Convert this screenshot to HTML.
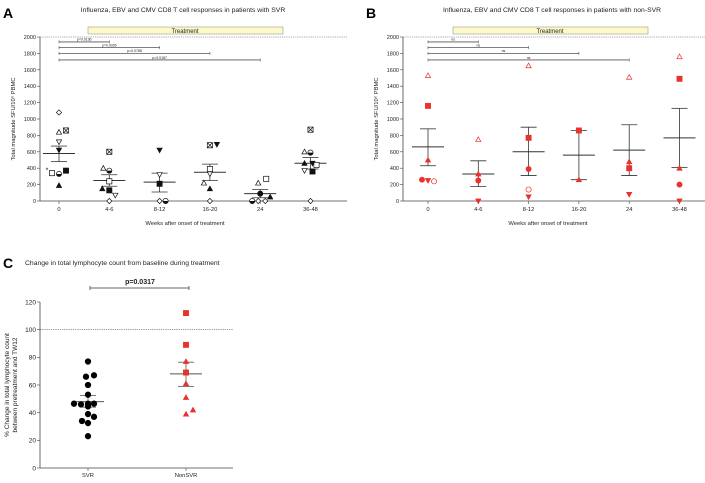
<!DOCTYPE html>
<html><head><meta charset="utf-8"><style>
body{margin:0;background:#fff;width:705px;height:478px;overflow:hidden}
svg{font-family:"Liberation Sans",sans-serif}
</style></head><body>
<svg id="s" width="705" height="478" viewBox="0 0 705 478"></svg>
<script>
const catsAB=["0","4-6","8-12","16-20","24","36-48"];
const ticksAB=[0,200,400,600,800,1000,1200,1400,1600,1800,2000];
// Panel A data: [category index, value, marker]
const aCat=[0,0,0,0,0,0,0,0,0,0, 1,1,1,1,1,1,1,1, 2,2,2,2,2, 3,3,3,3,3,3,3, 4,4,4,4,4,4,4, 5,5,5,5,5,5,5,5,5];
const aVal=[1080,840,860,720,620,380,340,330,370,190, 600,400,370,240,70,150,130,0, 620,320,210,0,0, 680,690,390,330,220,150,0, 270,220,90,0,0,0,50, 870,600,590,460,460,440,370,360,0];
const aMk=["od","ot","xs","ov","fv","st","os","hc","fs","ft", "xs","ot","hc","os","ov","ft","fs","od", "fv","ov","fs","od","hc", "xs","fv","os","ov","ot","ft","od", "os","ot","fc","hc","od","od","ft", "xs","ot","hc","ft","fv","os","ov","fs","od"];
const aJit=[0,0,7,0,0,-12,-7,0,7,0, 0,-6,0,0,6,-7,0,0, 0,0,0,0,6, 0,7,0,0,-6,0,0, 6,-2,0,-8,-2,5,10, 0,-6,0,-6,2,6,-6,2,0];
const aMean=[580,250,230,350,90,460], aLo=[480,180,110,250,40,390], aHi=[670,320,340,450,140,530];
const aP=["p=0.0136","p=0.0326","p=0.0788","p=0.0187"], aPy=[1940,1870,1800,1720];
// Panel B data
const bCat=[0,0,0,0,0,0, 1,1,1,1, 2,2,2,2,2, 3,3, 4,4,4,4, 5,5,5,5,5];
const bVal=[1530,1160,500,260,250,240, 750,330,250,0, 1650,770,390,140,50, 860,260, 1510,480,400,80, 1760,1490,400,200,0];
const bMk=["ot","fs","ft","fc","fv","oc", "ot","ft","fc","fv", "ot","fs","fc","oc","fv", "fs","ft", "ot","ft","fs","fv", "ot","fs","ft","fc","fv"];
const bJit=[0,0,0,-6,0,6, 0,0,0,0, 0,0,0,0,0, 0,0, 0,0,0,0, 0,0,0,0,0];
const bMean=[660,330,600,560,620,770], bLo=[430,175,310,260,310,410], bHi=[880,490,900,860,930,1130];
const bP=["ns","ns","ns","ns"];
// Panel C data
const cCats=["SVR","NonSVR"];
const cTicks=[0,20,40,60,80,100,120];
const svrVal=[77,66,67,60,53,46.5,46,46.5,46.5,44.5,39,37,34,32.5,23];
const svrJit=[0,-2,6,0,0,-14,-7,6,0,0,0,6,-6,0,0];
const nonVal=[112,89,69,77,61,51,39,42];
const nonMk=["fs","fs","fs","ft","ft","ft","ft","ft"];
const nonJit=[0,0,0,0,0,0,0,7];
const svrStats=[48,44,52.5], nonStats=[68,59,76.5];

const S=document.getElementById('s'),NS="http://www.w3.org/2000/svg";
function el(t,a,p){const e=document.createElementNS(NS,t);for(const k in a)e.setAttribute(k,a[k]);(p||S).appendChild(e);return e;}
function tx(x,y,s,size,anchor,extra){const e=el('text',Object.assign({x:x,y:y,'font-size':size,'text-anchor':anchor||'middle',fill:'#222'},extra||{}));e.textContent=s;return e;}
function marker(g,m,x,y,col,r){r=r||2.6;let e;
 const fill=m[0]=='f'?col:'#fff';
 if(m=='fc'||m=='oc'){e=el('circle',{cx:x,cy:y,r:r,fill:fill,stroke:col,'stroke-width':0.7},g);}
 else if(m=='hc'){e=el('circle',{cx:x,cy:y,r:r,fill:'#fff',stroke:col,'stroke-width':0.7},g);el('path',{d:`M${x-r},${y} A${r},${r} 0 0 0 ${x+r},${y}Z`,fill:col},g);}
 else if(m=='fs'||m=='os'||m=='xs'){e=el('rect',{x:x-r,y:y-r,width:2*r,height:2*r,fill:fill,stroke:col,'stroke-width':0.7},g);if(m=='xs'){el('path',{d:`M${x-r},${y-r}L${x+r},${y+r}M${x+r},${y-r}L${x-r},${y+r}`,stroke:col,'stroke-width':0.7},g);}}
 else if(m=='ft'||m=='ot'){e=el('polygon',{points:`${x},${y-r} ${x+r},${y+r*0.8} ${x-r},${y+r*0.8}`,fill:fill,stroke:col,'stroke-width':0.7},g);}
 else if(m=='fv'||m=='ov'){e=el('polygon',{points:`${x},${y+r} ${x+r},${y-r*0.8} ${x-r},${y-r*0.8}`,fill:fill,stroke:col,'stroke-width':0.7},g);}
 else if(m=='od'){e=el('polygon',{points:`${x},${y-r} ${x+r},${y} ${x},${y+r} ${x-r},${y}`,fill:'#fff',stroke:col,'stroke-width':0.7},g);}
 else {e=el('text',{x:x,y:y+2.5,'font-size':7,'text-anchor':'middle',fill:col},g);e.textContent='*';}
 
 
}
function errBar(g,x,yM,yL,yH,col){
 el('line',{x1:x-16,x2:x+16,y1:yM,y2:yM,stroke:col,'stroke-width':1},g);
 el('line',{x1:x,x2:x,y1:yL,y2:yH,stroke:col,'stroke-width':0.8},g);
 el('line',{x1:x-8,x2:x+8,y1:yL,y2:yL,stroke:col,'stroke-width':0.8},g);
 el('line',{x1:x-8,x2:x+8,y1:yH,y2:yH,stroke:col,'stroke-width':0.8},g);
}
function panel(o){
 const g=el('g',{});
 const y=v=>201-v/2000*164, x=i=>o.x0+i*50.3;
 const L=tx(o.ax-37,18,o.letter,14,'start',{'font-weight':'bold',fill:'#000'});
 const T=tx(o.tx,12,o.title,6.8,'middle');
 const tb=el('rect',{x:o.tbx,y:27,width:195,height:7,fill:'#fdfac8',stroke:'#999','stroke-width':0.6},g);
 tx(o.tbx+97,33,'Treatment',6,'middle');
 el('line',{x1:o.ax,x2:o.ax+307,y1:y(2000),y2:y(2000),stroke:'#555','stroke-width':0.6,'stroke-dasharray':'1.2,1'},g);
 el('line',{x1:o.ax,x2:o.ax,y1:y(2000),y2:y(0),stroke:'#444','stroke-width':0.8},g);
 el('line',{x1:o.ax,x2:o.ax+307,y1:y(0),y2:y(0),stroke:'#444','stroke-width':0.8},g);
 ticksAB.forEach(t=>{el('line',{x1:o.ax-3,x2:o.ax,y1:y(t),y2:y(t),stroke:'#444','stroke-width':0.6},g);tx(o.ax-4,y(t)+2,t,5.5,'end');});
 catsAB.forEach((c,i)=>{el('line',{x1:x(i),x2:x(i),y1:y(0),y2:y(0)+3,stroke:'#444','stroke-width':0.6},g);tx(x(i),211,c,5.8,'middle');});
 const yt=tx(0,0,'Total magnitude SFU/10⁶ PBMC',5.8,'middle',{transform:`translate(${o.ax-25},${y(1000)}) rotate(-90)`});
 const xt=tx(o.ax+145,225,'Weeks after onset of treatment',5.8,'middle');
 o.p.forEach((p,k)=>{const yy=y(o.py[k]);const x2=x(k+1);
  el('line',{x1:x(0),x2:x2,y1:yy,y2:yy,stroke:'#555','stroke-width':0.8},g);
  el('line',{x1:x(0),x2:x(0),y1:yy-1.5,y2:yy+1.5,stroke:'#555','stroke-width':0.6},g);
  el('line',{x1:x2,x2:x2,y1:yy-1.5,y2:yy+1.5,stroke:'#555','stroke-width':0.6},g);
  tx((x(0)+x2)/2,yy-1.2,p,3.5,'middle');});
 o.mean.forEach((m,i)=>errBar(g,x(i),y(m),y(o.lo[i]),y(o.hi[i]),o.ecol));
 o.cat.forEach((c,k)=>marker(g,o.mk[k],x(c)+o.jit[k],y(o.val[k]),o.col));
}
panel({name:'panel-a',letter:'A',ax:40,x0:59,tx:183,title:'Influenza, EBV and CMV CD8  T cell responses in patients with SVR',tbx:88,p:aP,py:aPy,mean:aMean,lo:aLo,hi:aHi,cat:aCat,val:aVal,mk:aMk,jit:aJit,col:'#111',ecol:'#333'});
panel({name:'panel-b',letter:'B',ax:403,x0:428,tx:552,title:'Influenza, EBV and CMV CD8  T cell responses in patients with non-SVR',tbx:453,p:bP,py:aPy,mean:bMean,lo:bLo,hi:bHi,cat:bCat,val:bVal,mk:bMk,jit:bJit,col:'#e8322c',ecol:'#333'});
// Panel C
(function(){
 const g=el('g',{});
 const ax=40,y=v=>468-v/120*166,xs=[88,186];
 const L=tx(3,268,'C',14,'start',{'font-weight':'bold',fill:'#000'});
 const T=tx(25,265,'Change in total lymphocyte count from baseline during treatment',6.8,'start');
 el('line',{x1:90,x2:189,y1:288,y2:288,stroke:'#333','stroke-width':0.8},g);
 el('line',{x1:90,x2:90,y1:286,y2:290,stroke:'#333','stroke-width':0.7},g);el('line',{x1:189,x2:189,y1:286,y2:290,stroke:'#333','stroke-width':0.7},g);
 tx(140,284,'p=0.0317',7,'middle',{'font-weight':'bold'});
 el('line',{x1:ax,x2:233,y1:y(100),y2:y(100),stroke:'#555','stroke-width':0.7,'stroke-dasharray':'1.2,1'},g);
 el('line',{x1:ax,x2:ax,y1:y(120),y2:y(0),stroke:'#444','stroke-width':0.8},g);
 el('line',{x1:ax,x2:233,y1:y(0),y2:y(0),stroke:'#444','stroke-width':0.8},g);
 cTicks.forEach(t=>{el('line',{x1:ax-3,x2:ax,y1:y(t),y2:y(t),stroke:'#444','stroke-width':0.6},g);tx(ax-4,y(t)+2.3,t,6.5,'end');});
 cCats.forEach((c,i)=>{el('line',{x1:xs[i],x2:xs[i],y1:y(0),y2:y(0)+3,stroke:'#444','stroke-width':0.6},g);tx(xs[i],477,c,5.8,'middle');});
 const yt=tx(0,0,'% Change in total lymphocyte count',6.5,'middle',{transform:`translate(${ax-31},${y(60)}) rotate(-90)`});
 tx(0,0,'between pretreatment  and TW12',6.5,'middle',{transform:`translate(${ax-23},${y(60)}) rotate(-90)`});
 errBar(g,xs[0],y(svrStats[0]),y(svrStats[1]),y(svrStats[2]),'#555');
 errBar(g,xs[1],y(nonStats[0]),y(nonStats[1]),y(nonStats[2]),'#555');
 svrVal.forEach((v,k)=>marker(g,'fc',xs[0]+svrJit[k],y(v),'#000',2.8));
 nonVal.forEach((v,k)=>marker(g,nonMk[k],xs[1]+nonJit[k],y(v),'#e8322c',2.6));
})();
</script>
</body></html>
